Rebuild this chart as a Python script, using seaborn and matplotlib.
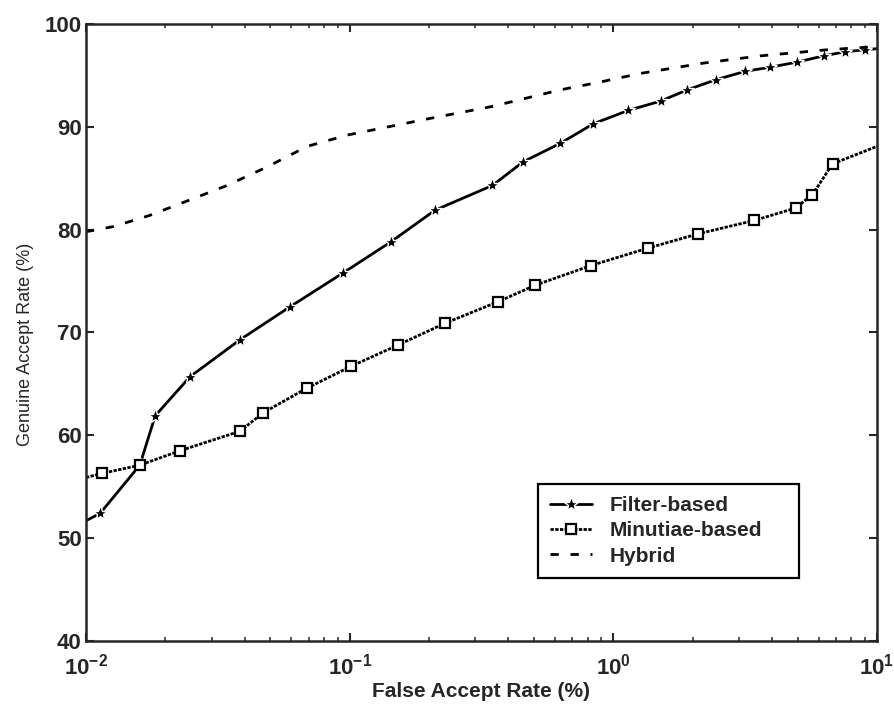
import numpy as np
import pandas as pd
import matplotlib
matplotlib.use("Agg")
import matplotlib.pyplot as plt
import seaborn as sns

# values (FAR in %, GAR in %)
filter_far = [0.01, 0.0113, 0.016, 0.0183, 0.0248, 0.0384, 0.0594, 0.0945, 0.143, 0.211,
              0.348, 0.455, 0.63, 0.84, 1.14, 1.51, 1.91, 2.46, 3.17, 3.94, 4.99, 6.27,
              7.59, 9.03, 10.0]
filter_gar = [51.7, 52.4, 57.1, 61.9, 65.7, 69.3, 72.5, 75.8, 78.8, 81.9,
              84.3, 86.6, 88.4, 90.3, 91.6, 92.5, 93.6, 94.6, 95.4, 95.8, 96.3, 96.9,
              97.3, 97.5, 97.6]

minutiae_far = [0.01, 0.0115, 0.016, 0.0227, 0.0384, 0.047, 0.069, 0.101, 0.153, 0.23,
                0.366, 0.506, 0.82, 1.35, 2.1, 3.43, 4.91, 5.69, 6.78, 10.0]
minutiae_gar = [55.9, 56.3, 57.1, 58.5, 60.4, 62.2, 64.6, 66.7, 68.8, 70.9,
                73.0, 74.6, 76.5, 78.2, 79.6, 80.9, 82.1, 83.4, 86.4, 88.1]

hybrid_far = [0.01, 0.0127, 0.0175, 0.0248, 0.0343, 0.0486, 0.069, 0.098, 0.2, 0.35,
              0.63, 0.87, 1.27, 2.2, 3.6, 6.5, 10.0]
hybrid_gar = [79.8, 80.3, 81.4, 82.9, 84.3, 86.1, 88.1, 89.2, 90.8, 92.0,
              93.6, 94.3, 95.2, 96.2, 96.9, 97.5, 97.8]

x_ticks = [0.01, 0.1, 1, 10]
x_tick_labels = [r"$10^{-2}$", r"$10^{-1}$", r"$10^{0}$", r"$10^{1}$"]
y_ticks = [40, 50, 60, 70, 80, 90, 100]

sns.set_style("ticks")
plt.rcParams["font.family"] = ["Liberation Sans", "DejaVu Sans"]
plt.rcParams["mathtext.fontset"] = "custom"
plt.rcParams["mathtext.rm"] = "Liberation Sans:bold"
plt.rcParams["mathtext.bf"] = "Liberation Sans:bold"
plt.rcParams["mathtext.default"] = "bf"
plt.rcParams["axes.linewidth"] = 1.8

fig = plt.figure(figsize=(8.95, 7.07), dpi=100)
ax = fig.add_axes([86 / 895, 1 - 641 / 707, (877 - 86) / 895, (641 - 24) / 707])

filt = pd.DataFrame({"far": filter_far, "gar": filter_gar})
minu = pd.DataFrame({"far": minutiae_far, "gar": minutiae_gar})
hyb = pd.DataFrame({"far": hybrid_far, "gar": hybrid_gar})

sns.lineplot(data=filt, x="far", y="gar", ax=ax, color="black", lw=2.0,
             marker="*", markersize=11, markeredgewidth=1.0,
             markevery=list(range(1, len(filter_far) - 1)),
             estimator=None, sort=False, label="Filter-based")
sns.lineplot(data=minu, x="far", y="gar", ax=ax, color="black", lw=2.0,
             linestyle=(0, (1.2, 0.5)), marker="s", markersize=6.5,
             markerfacecolor="white", markeredgecolor="black", markeredgewidth=1.6,
             markevery=list(range(1, len(minutiae_far) - 1)),
             estimator=None, sort=False, label="Minutiae-based")
sns.lineplot(data=hyb, x="far", y="gar", ax=ax, color="black", lw=2.0,
             dashes=False, linestyle=(0, (3.0, 4.2)),
             estimator=None, sort=False, label="Hybrid")

ax.set_xscale("log")
ax.set_xlim(0.01, 10)
ax.set_ylim(40, 100)
ax.set_xticks(x_ticks)
ax.set_xticklabels(x_tick_labels)
ax.set_yticks(y_ticks)
ax.set_yticklabels([str(v) for v in y_ticks], fontweight="bold")

ax.tick_params(axis="both", which="both", direction="in", top=True, right=True)
ax.tick_params(axis="both", which="major", length=6, width=1.5, labelsize=16)
ax.tick_params(axis="both", which="minor", length=3, width=1.1)
ax.tick_params(axis="x", which="major", pad=9)
ax.tick_params(axis="y", which="major", pad=3)
ax.minorticks_on()
ax.yaxis.set_minor_locator(plt.NullLocator())

ax.set_xlabel("False Accept Rate (%)", fontsize=15, fontweight="bold", labelpad=2)
ax.set_ylabel("Genuine Accept Rate (%)", fontsize=13)
ax.yaxis.set_label_coords(-0.066, 0.48)

leg = ax.legend(loc="lower left", bbox_to_anchor=(0.571, 0.102, 0.33, 0.146),
                mode="expand", prop={"weight": "bold", "size": 15},
                frameon=True, fancybox=False, shadow=False, framealpha=1,
                handlelength=2.0, handletextpad=0.85, labelspacing=0.3,
                borderaxespad=0, borderpad=0.6)
leg.get_frame().set_edgecolor("black")
leg.get_frame().set_linewidth(1.6)

fig.savefig("out.png", dpi=100)
